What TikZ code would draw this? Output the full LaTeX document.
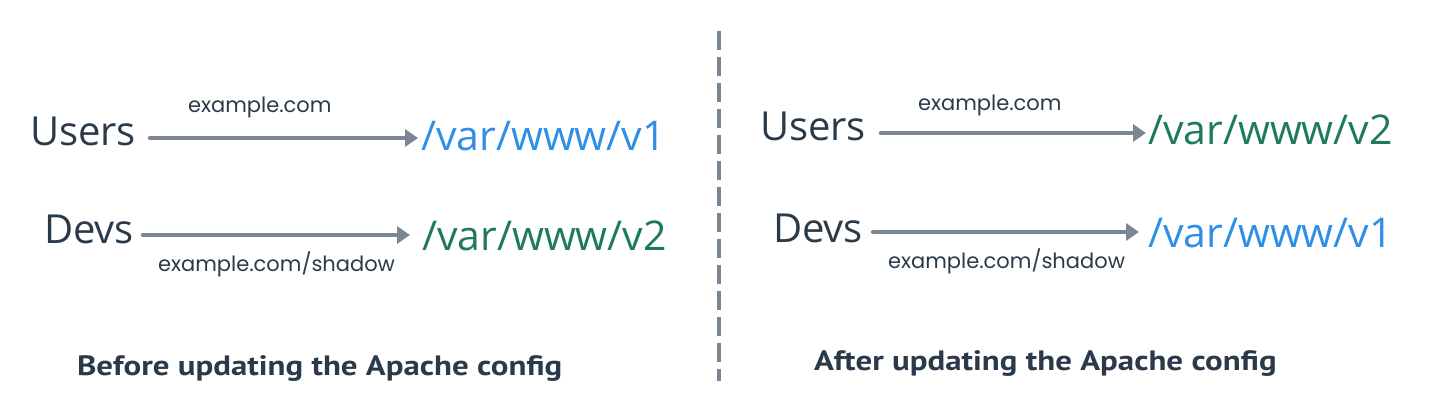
\documentclass[tikz,border=0pt]{standalone}
\usepackage{fontspec}
\usepackage{graphicx}
\setmainfont{Open Sans}
\newfontfamily\capfont{PT Sans}
\newfontfamily\labfont{Poppins}
\usetikzlibrary{arrows.meta}
\definecolor{ink}{HTML}{2B3A4A}
\definecolor{pathblue}{HTML}{2F8EE5}
\definecolor{pathgreen}{HTML}{1D7A5F}
\definecolor{arrgray}{HTML}{7A8793}
\newcommand{\widecap}[1]{\scalebox{1.175}[1]{#1}}
\tikzset{
  txt/.style={anchor=base west, inner sep=0pt, outer sep=0pt},
  who/.style={txt, text=ink, font=\fontsize{40}{40}\selectfont},
  dirblue/.style={txt, text=pathblue, font=\fontsize{41}{41}\selectfont},
  dirgreen/.style={txt, text=pathgreen, font=\fontsize{41}{41}\selectfont},
  lab/.style={txt, text=ink, font=\labfont\fontsize{21}{21}\selectfont},
  caption/.style={txt, text=ink, font=\capfont\bfseries\fontsize{28}{28}\selectfont},
  arr/.style={draw=arrgray, line width=4.5pt, line cap=round, -{Triangle[length=13pt,width=17pt]}},
  divider/.style={draw=arrgray, line width=4pt, dash pattern=on 19pt off 7pt},
}
\begin{document}
\begin{tikzpicture}[x=1pt,y=-1pt]
\useasboundingbox (0,0) rectangle (1432,417);
% left panel
\node[who] (u1) at (30,146) {Users};
\node[dirblue] (p1) at (421,150) {/var/www/v1};
\node[lab] (l1) at (188,113) {example.com};
\coordinate (u1s) at (150,138);
\coordinate (u1e) at (418,138);
\draw[arr] (u1s) -- (u1e);
\node[who] (d1) at (44,243) {Devs};
\node[dirgreen] (p2) at (422,250) {/var/www/v2};
\node[lab] (l2) at (158,271) {example.com/shadow};
\coordinate (d1s) at (143,235);
\coordinate (d1e) at (410,235);
\draw[arr] (d1s) -- (d1e);
\node[caption] (c1) at (77,375) {\widecap{Before updating the Apache config}};
% divider
\coordinate (dvt) at (719,31);
\coordinate (dvb) at (719,381);
\draw[divider] (dvt) -- (dvb);
% right panel
\node[who] (u2) at (760,141) {Users};
\node[dirgreen] (p3) at (1148,145) {/var/www/v2};
\node[lab] (l3) at (918,111) {example.com};
\coordinate (u2s) at (881,133);
\coordinate (u2e) at (1146,133);
\draw[arr] (u2s) -- (u2e);
\node[who] (d2) at (773,242) {Devs};
\node[dirblue] (p4) at (1148,247) {/var/www/v1};
\node[lab] (l4) at (888,268) {example.com/shadow};
\coordinate (d2s) at (873,232);
\coordinate (d2e) at (1139,232);
\draw[arr] (d2s) -- (d2e);
\node[caption] (c2) at (814,370) {\widecap{After updating the Apache config}};
\end{tikzpicture}
\end{document}
